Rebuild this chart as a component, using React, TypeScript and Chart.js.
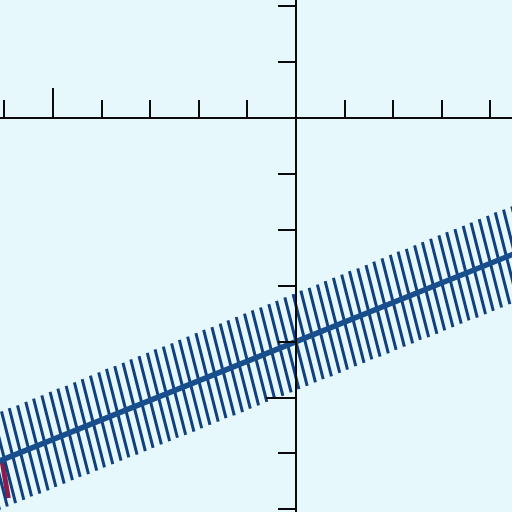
import React, { useEffect, useRef } from "react";
import { Chart, registerables } from "chart.js";

Chart.register(...registerables);

// Main line
const lineX = [-6.2, 0, 4.6];
const lineY = [-6.17, -4.0, -2.39];

// Hatch mark centres along the line
const hatchX = [
  -6.33, -6.17, -6.0, -5.83, -5.67, -5.5, -5.33, -5.17, -5.0, -4.83, -4.67, -4.5, -4.33, -4.17,
  -4.0, -3.83, -3.67, -3.5, -3.33, -3.17, -3.0, -2.83, -2.67, -2.5, -2.33, -2.17, -2.0, -1.83,
  -1.67, -1.5, -1.33, -1.17, -1.0, -0.83, -0.67, -0.5, -0.33, -0.17, 0.0, 0.17, 0.33, 0.5, 0.67,
  0.83, 1.0, 1.17, 1.33, 1.5, 1.67, 1.83, 2.0, 2.17, 2.33, 2.5, 2.67, 2.83, 3.0, 3.17, 3.33, 3.5,
  3.67, 3.83, 4.0, 4.17, 4.33, 4.5, 4.67,
];
const hatchY = [
  -6.22, -6.16, -6.1, -6.04, -5.98, -5.93, -5.87, -5.81, -5.75, -5.69, -5.63, -5.58, -5.52, -5.46,
  -5.4, -5.34, -5.28, -5.23, -5.17, -5.11, -5.05, -4.99, -4.93, -4.88, -4.82, -4.76, -4.7, -4.64,
  -4.58, -4.53, -4.47, -4.41, -4.35, -4.29, -4.23, -4.18, -4.12, -4.06, -4.0, -3.94, -3.88, -3.83,
  -3.77, -3.71, -3.65, -3.59, -3.53, -3.48, -3.42, -3.36, -3.3, -3.24, -3.18, -3.13, -3.07, -3.01,
  -2.95, -2.89, -2.83, -2.78, -2.72, -2.66, -2.6, -2.54, -2.48, -2.43, -2.37,
];

// Red mark at lower left
const redX = [-6.05, -5.92];
const redY = [-6.12, -6.8];

// Axis ticks
const xTicks = [-6, -5, -4, -3, -2, -1, 1, 2, 3, 4];
const yTicks = [2, 1, -1, -2, -3, -4, -5, -6, -7];
const majorTick = -5;

// Hatch half-extent (data units)
const HATCH_DX = 0.23;
const HATCH_DY = 0.79;

const BG = "#e6f8fc";

export default function App() {
  const ref = useRef<HTMLCanvasElement | null>(null);

  useEffect(() => {
    document.body.style.margin = "0";
    document.body.style.background = BG;
    const canvas = ref.current;
    if (!canvas) return;

    const hatchData: { x: number; y: number | null }[] = [];
    hatchX.forEach((cx, i) => {
      const cy = hatchY[i];
      hatchData.push({ x: cx - HATCH_DX, y: cy + HATCH_DY });
      hatchData.push({ x: cx + HATCH_DX, y: cy - HATCH_DY });
      hatchData.push({ x: cx, y: null });
    });

    const bgPlugin = {
      id: "bg",
      beforeDraw(chart: any) {
        const { ctx, width, height } = chart;
        ctx.save();
        ctx.fillStyle = BG;
        ctx.fillRect(0, 0, width, height);
        ctx.restore();
      },
    };

    const axesPlugin = {
      id: "axes",
      afterDatasetsDraw(chart: any) {
        const { ctx, chartArea } = chart;
        const xs = chart.scales.x;
        const ys = chart.scales.y;
        const ox = Math.round(xs.getPixelForValue(0));
        const oy = Math.round(ys.getPixelForValue(0));
        ctx.save();
        ctx.strokeStyle = "#0a0a0a";
        ctx.lineWidth = 2;
        ctx.lineCap = "butt";
        ctx.beginPath();
        ctx.moveTo(chartArea.left, oy);
        ctx.lineTo(chartArea.right, oy);
        ctx.moveTo(ox, chartArea.top);
        ctx.lineTo(ox, chartArea.bottom);
        xTicks.forEach((t) => {
          const px = Math.round(xs.getPixelForValue(t));
          const len = t === majorTick ? 30 : 18;
          ctx.moveTo(px, oy);
          ctx.lineTo(px, oy - len);
        });
        yTicks.forEach((t) => {
          const py = Math.round(ys.getPixelForValue(t));
          const len = t === majorTick ? 30 : 18;
          ctx.moveTo(ox, py);
          ctx.lineTo(ox - len, py);
        });
        ctx.stroke();
        ctx.restore();
      },
    };

    const chart = new Chart(canvas, {
      type: "line",
      data: {
        datasets: [
          {
            label: "line",
            data: lineX.map((x, i) => ({ x, y: lineY[i] })),
            borderColor: "#184e8c",
            borderWidth: 5.5,
            pointRadius: 0,
            tension: 0,
          },
          {
            label: "hatch",
            data: hatchData as any,
            borderColor: "#11407f",
            borderWidth: 3,
            pointRadius: 0,
            spanGaps: false,
            tension: 0,
          },
          {
            label: "red",
            data: redX.map((x, i) => ({ x, y: redY[i] })),
            borderColor: "#8c1c4c",
            borderWidth: 5,
            pointRadius: 0,
          },
        ],
      },
      options: {
        animation: false,
        responsive: false,
        maintainAspectRatio: false,
        layout: { padding: 0 },
        plugins: { legend: { display: false }, tooltip: { enabled: false } },
        scales: {
          x: { type: "linear", min: -296 / 48.6, max: 216 / 48.6, display: false },
          y: { type: "linear", min: -394 / 55.9, max: 118 / 55.9, display: false },
        },
      },
      plugins: [bgPlugin, axesPlugin],
    });

    return () => chart.destroy();
  }, []);

  return <canvas ref={ref} width={512} height={512} style={{ display: "block" }} />;
}
